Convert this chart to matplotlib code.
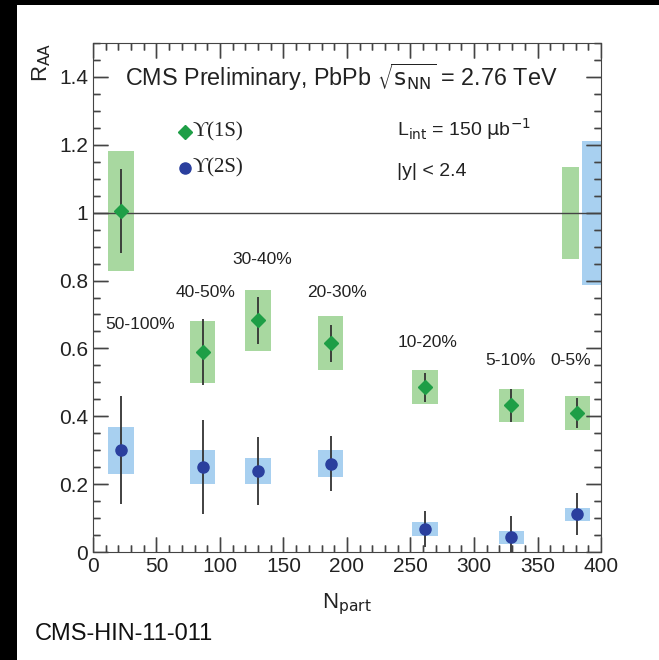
import numpy as np
import matplotlib
matplotlib.use("Agg")
import matplotlib.pyplot as plt
from matplotlib.patches import Rectangle
from matplotlib.ticker import MultipleLocator, FormatStrFormatter

plt.rcParams['font.family'] = ['Liberation Sans', 'DejaVu Sans']
plt.rcParams['axes.edgecolor'] = '#444444'

# Data
npart = [22.1, 86.3, 130.0, 187.1, 261.4, 329.4, 381.3]
centrality = ["50-100%", "40-50%", "30-40%", "20-30%", "10-20%", "5-10%", "0-5%"]

raa_1s = [1.005, 0.59, 0.683, 0.615, 0.485, 0.432, 0.41]
stat_1s = [0.125, 0.097, 0.07, 0.055, 0.042, 0.049, 0.045]
syst_1s = [0.178, 0.091, 0.09, 0.08, 0.05, 0.049, 0.051]

raa_2s = [0.30, 0.25, 0.238, 0.26, 0.068, 0.043, 0.111]
stat_2s = [0.159, 0.138, 0.1, 0.081, 0.053, 0.063, 0.062]
syst_2s = [0.069, 0.05, 0.039, 0.04, 0.021, 0.02, 0.02]

glob_1s = 0.136
glob_2s = 0.212

# label positions (data coords)
lab_x = [10, 65, 110, 169, 240, 309, 360]
lab_y = [0.656, 0.753, 0.848, 0.753, 0.605, 0.552, 0.552]

green_box = '#a8d8a0'
blue_box = '#a8d0f0'
green_mk = '#1e9e46'
blue_mk = '#2a3f9e'
frame = '#444444'

fig = plt.figure(figsize=(6.59, 6.60), dpi=100)
ax = fig.add_axes([0.1411, 0.1636, 0.7709, 0.7712])
ax.set_xlim(0, 400)
ax.set_ylim(0, 1.5)

ax.xaxis.set_major_locator(MultipleLocator(50))
ax.xaxis.set_minor_locator(MultipleLocator(10))
ax.yaxis.set_major_locator(MultipleLocator(0.2))
ax.yaxis.set_minor_locator(MultipleLocator(0.05))
ax.yaxis.set_major_formatter(FormatStrFormatter('%g'))
ax.tick_params(which='both', direction='in', top=True, right=True,
               color=frame, width=1, labelsize=15, labelcolor='#222222')
ax.tick_params(which='major', length=11)
ax.tick_params(which='minor', length=5)

hw = 10
for x, y, s in zip(npart, raa_1s, syst_1s):
    ax.add_patch(Rectangle((x - hw, y - s), 2 * hw, 2 * s, facecolor=green_box,
                           edgecolor='none', zorder=1))
for x, y, s in zip(npart, raa_2s, syst_2s):
    ax.add_patch(Rectangle((x - hw, y - s), 2 * hw, 2 * s, facecolor=blue_box,
                           edgecolor='none', zorder=1))

# global uncertainties at the right edge
ax.add_patch(Rectangle((369, 1 - glob_1s), 14, 2 * glob_1s, facecolor=green_box,
                       edgecolor='none', zorder=1))
ax.add_patch(Rectangle((385, 1 - glob_2s), 15, 2 * glob_2s, facecolor=blue_box,
                       edgecolor='none', zorder=1))

ax.axhline(1.0, color='#444444', lw=1.0, zorder=2)

ax.errorbar(npart, raa_1s, yerr=stat_1s, fmt='D', color='#333333', ecolor='#333333',
            elinewidth=1.3, capsize=0, markersize=7, markerfacecolor=green_mk,
            markeredgecolor=green_mk, zorder=3)
ax.errorbar(npart, raa_2s, yerr=stat_2s, fmt='o', color='#333333', ecolor='#333333',
            elinewidth=1.3, capsize=0, markersize=8, markerfacecolor=blue_mk,
            markeredgecolor=blue_mk, zorder=3)

for x, y, t in zip(lab_x, lab_y, centrality):
    ax.text(x, y, t, fontsize=12.5, color='#222222', ha='left', va='baseline')

ax.text(25, 1.373, r'CMS Preliminary, PbPb $\sqrt{\mathrm{s}_{\mathrm{NN}}}$ = 2.76 TeV',
        fontsize=16.8, color='#222222', ha='left', va='baseline')

ax.plot([72.4], [1.237], 'D', color=green_mk, markersize=7)
ax.plot([72.4], [1.131], 'o', color=blue_mk, markersize=8)
ax.text(78, 1.237, 'ϒ(1S)', fontsize=15, color='#222222', va='center',
        family=['Liberation Serif', 'DejaVu Serif'])
ax.text(78, 1.131, 'ϒ(2S)', fontsize=15, color='#222222', va='center',
        family=['Liberation Serif', 'DejaVu Serif'])
ax.text(239, 1.226, r'L$_{\mathrm{int}}$ = 150 $\mathrm{\mu}$b$^{\mathrm{-1}}$',
        fontsize=14, color='#222222', va='baseline')
ax.text(239, 1.107, '|y| < 2.4', fontsize=14, color='#222222', va='baseline')

ax.text(-0.1, 1.0, r'R$_{\mathrm{AA}}$', transform=ax.transAxes, rotation=90,
        ha='center', va='top', fontsize=16, color='#222222')
ax.text(0.5, -0.077, r'N$_{\mathrm{part}}$', transform=ax.transAxes,
        ha='center', va='top', fontsize=16, color='#222222')

# inward tick marks on all four sides, drawn as lines at the locator positions
xmaj = [t for t in ax.xaxis.get_majorticklocs() if 0 <= t <= 400]
xmin = [t for t in ax.xaxis.get_minorticklocs() if 0 <= t <= 400]
ymaj = [t for t in ax.yaxis.get_majorticklocs() if 0 <= t <= 1.5]
ymin = [t for t in ax.yaxis.get_minorticklocs() if 0 <= t <= 1.5]
L_maj, L_min = 0.030, 0.0136
xt = ax.get_xaxis_transform()
yt = ax.get_yaxis_transform()
for locs, L in ((xmaj, L_maj), (xmin, L_min)):
    ax.vlines(locs, 0, L, transform=xt, colors=frame, lw=1, zorder=4)
    ax.vlines(locs, 1 - L, 1, transform=xt, colors=frame, lw=1, zorder=4)
for locs, L in ((ymaj, L_maj), (ymin, L_min)):
    ax.hlines(locs, 0, L, transform=yt, colors=frame, lw=1, zorder=4)
    ax.hlines(locs, 1 - L, 1, transform=yt, colors=frame, lw=1, zorder=4)

fig.text(35 / 659, 1 - 640 / 660, 'CMS-HIN-11-011', fontsize=17, color='#111111',
         ha='left', va='baseline')

# black strips along the left and top edges of the scan
fig.add_artist(Rectangle((0, 0), 17 / 659, 1, transform=fig.transFigure,
                         facecolor='black', edgecolor='none'))
fig.add_artist(Rectangle((0, 1 - 5 / 660), 1, 5 / 660, transform=fig.transFigure,
                         facecolor='black', edgecolor='none'))

fig.savefig('out.png', dpi=100)
